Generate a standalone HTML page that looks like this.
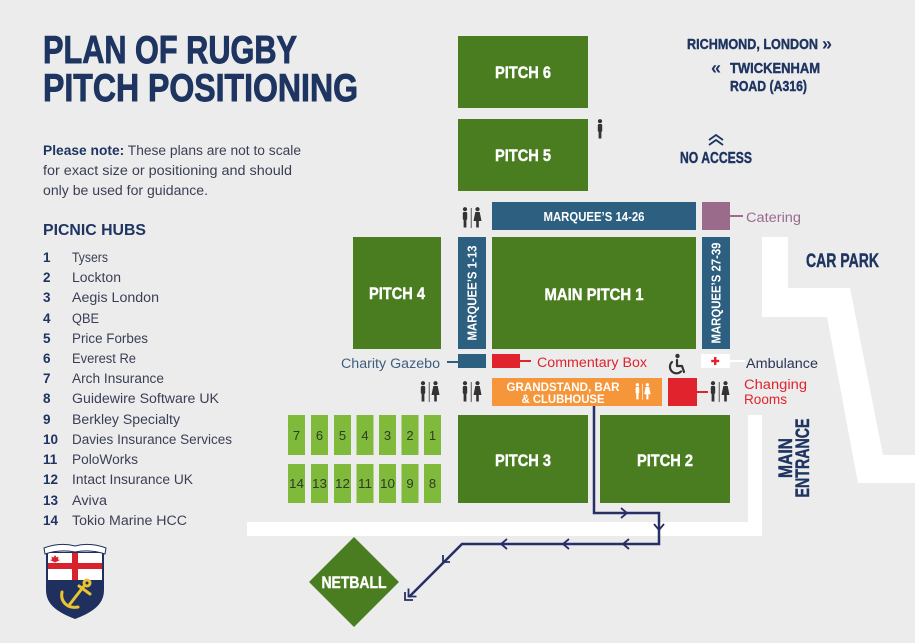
<!DOCTYPE html>
<html><head><meta charset="utf-8"><style>
html,body{margin:0;padding:0;background:#ececec;}
svg{display:block;}
.c{font-family:"Liberation Sans Narrow","Liberation Sans",sans-serif;font-weight:bold;}
.b{font-family:"Liberation Sans","DejaVu Sans",sans-serif;}
</style></head><body>
<svg width="915" height="643" viewBox="0 0 915 643" xmlns="http://www.w3.org/2000/svg">
<defs>
<symbol id="wc" viewBox="0 0 20 22" width="20" height="22">
<circle cx="3" cy="2.2" r="2.1"/><rect x="0.8" y="5" width="4.4" height="8" rx="1.2"/><rect x="1.6" y="11" width="2.8" height="9.5"/>
<rect x="8.8" y="1" width="0.8" height="20"/>
<circle cx="15.5" cy="2.2" r="2.1"/><polygon points="13.3,5 17.7,5 19.5,14 11.5,14"/><rect x="14.2" y="13" width="2.6" height="7.5"/>
</symbol>
</defs>
<rect width="915" height="643" fill="#ececec"/>

<!-- Title -->
<g stroke="#1e3461" stroke-width="0.9">
<text class="c" x="43" y="63" font-size="38.5" fill="#1e3461" textLength="254" lengthAdjust="spacingAndGlyphs">PLAN OF RUGBY</text>
<text class="c" x="43" y="101" font-size="38.5" fill="#1e3461" textLength="315" lengthAdjust="spacingAndGlyphs">PITCH POSITIONING</text>
</g>

<g class="b" font-size="13.5" fill="#3b3f55">
<text x="43" y="155" textLength="258" lengthAdjust="spacingAndGlyphs"><tspan font-weight="bold" fill="#1e3461">Please note:</tspan> These plans are not to scale</text>
<text x="43" y="175" textLength="249" lengthAdjust="spacingAndGlyphs">for exact size or positioning and should</text>
<text x="43" y="195" textLength="165" lengthAdjust="spacingAndGlyphs">only be used for guidance.</text>
</g>

<text class="b" x="43" y="235" font-size="16" font-weight="bold" fill="#1e3461" textLength="103" lengthAdjust="spacingAndGlyphs">PICNIC HUBS</text>
<g class="b" font-size="13.5" fill="#3b3f55">
<g font-weight="bold" fill="#1e3461">
<text x="43" y="262">1</text><text x="43" y="282">2</text><text x="43" y="302">3</text><text x="43" y="323">4</text><text x="43" y="343">5</text><text x="43" y="363">6</text><text x="43" y="383">7</text><text x="43" y="403">8</text><text x="43" y="424">9</text><text x="43" y="444">10</text><text x="43" y="464">11</text><text x="43" y="484">12</text><text x="43" y="505">13</text><text x="43" y="525">14</text>
</g>
<text x="72" y="262" textLength="36" lengthAdjust="spacingAndGlyphs">Tysers</text>
<text x="72" y="282" textLength="49" lengthAdjust="spacingAndGlyphs">Lockton</text>
<text x="72" y="302" textLength="87" lengthAdjust="spacingAndGlyphs">Aegis London</text>
<text x="72" y="323" textLength="27" lengthAdjust="spacingAndGlyphs">QBE</text>
<text x="72" y="343" textLength="76" lengthAdjust="spacingAndGlyphs">Price Forbes</text>
<text x="72" y="363" textLength="64" lengthAdjust="spacingAndGlyphs">Everest Re</text>
<text x="72" y="383" textLength="92" lengthAdjust="spacingAndGlyphs">Arch Insurance</text>
<text x="72" y="403" textLength="147" lengthAdjust="spacingAndGlyphs">Guidewire Software UK</text>
<text x="72" y="424" textLength="108" lengthAdjust="spacingAndGlyphs">Berkley Specialty</text>
<text x="72" y="444" textLength="160" lengthAdjust="spacingAndGlyphs">Davies Insurance Services</text>
<text x="72" y="464" textLength="66" lengthAdjust="spacingAndGlyphs">PoloWorks</text>
<text x="72" y="484" textLength="121" lengthAdjust="spacingAndGlyphs">Intact Insurance UK</text>
<text x="72" y="505" textLength="35" lengthAdjust="spacingAndGlyphs">Aviva</text>
<text x="72" y="525" textLength="115" lengthAdjust="spacingAndGlyphs">Tokio Marine HCC</text>
</g>

<!-- Crest -->
<g>
<path d="M46,552 L104,552 L104,590 C104,606 90,613 75,619 C60,613 46,606 46,590 Z" fill="#1f2f5e"/>
<rect x="48" y="553" width="54" height="27" fill="#ffffff"/>
<rect x="72" y="553" width="6" height="27" fill="#d8232a"/>
<rect x="48" y="563" width="54" height="6" fill="#d8232a"/>
<polygon points="55,555 56.5,557.5 58.5,556.5 58,559.5 60,560 55,562.5 50,560 52,559.5 51.5,556.5 53.5,557.5" fill="#d8232a"/>
<path d="M44,548 Q60,542 75,546 Q90,542 106,548 L105,554 Q90,549 75,552 Q60,549 45,554 Z" fill="#ffffff" stroke="#1f2f5e" stroke-width="1"/>
<g fill="none" stroke="#e9c431" stroke-width="3" stroke-linecap="round">
<path d="M84,586 L70,604"/>
<path d="M62,592 C60,602 68,609 78,607"/>
<path d="M79,586 L90,594"/>
<circle cx="87" cy="583" r="3"/>
</g>
</g>

<!-- White roads -->
<rect x="247" y="522" width="515" height="14" fill="#ffffff"/>
<rect x="748" y="415" width="14" height="121" fill="#ffffff"/>
<polygon points="762,237 788,237 788,288 850,288 883,455 915,455 915,483 858,483 827,317 762,317" fill="#ffffff"/>

<!-- Pitches -->
<g fill="#4a7d1f">
<rect x="458" y="36" width="130" height="72"/>
<rect x="458" y="119" width="130" height="72"/>
<rect x="492" y="237" width="204" height="112"/>
<rect x="353" y="237" width="88" height="112"/>
<rect x="458" y="415" width="130" height="88"/>
<rect x="600" y="415" width="130" height="88"/>
<polygon points="354,537 399,582 354,627 309,582"/>
</g>
<g class="c" fill="#ffffff" font-size="17" text-anchor="middle" stroke="#ffffff" stroke-width="0.4">
<text x="523" y="78" textLength="56" lengthAdjust="spacingAndGlyphs">PITCH 6</text>
<text x="523" y="161" textLength="56" lengthAdjust="spacingAndGlyphs">PITCH 5</text>
<text x="594" y="300" textLength="99" lengthAdjust="spacingAndGlyphs">MAIN PITCH 1</text>
<text x="397" y="299" textLength="56" lengthAdjust="spacingAndGlyphs">PITCH 4</text>
<text x="523" y="466" textLength="56" lengthAdjust="spacingAndGlyphs">PITCH 3</text>
<text x="665" y="466" textLength="56" lengthAdjust="spacingAndGlyphs">PITCH 2</text>
<text x="354" y="588" textLength="65" lengthAdjust="spacingAndGlyphs">NETBALL</text>
</g>

<!-- Marquees -->
<g fill="#2d5f80">
<rect x="492" y="202" width="204" height="28"/>
<rect x="458" y="237" width="28" height="112"/>
<rect x="702" y="237" width="28" height="112"/>
<rect x="458" y="354" width="28" height="14"/>
</g>
<g class="c" fill="#ffffff" font-size="12.5" text-anchor="middle">
<text x="594" y="221" textLength="101" lengthAdjust="spacingAndGlyphs">MARQUEE’S 14-26</text>
<text transform="translate(472,293) rotate(-90)" x="0" y="4.5" textLength="95" lengthAdjust="spacingAndGlyphs">MARQUEE’S 1-13</text>
<text transform="translate(716,293) rotate(-90)" x="0" y="4.5" textLength="101" lengthAdjust="spacingAndGlyphs">MARQUEE’S 27-39</text>
</g>

<!-- Catering -->
<rect x="702" y="202" width="28" height="28" fill="#9a6b8b"/>
<rect x="730" y="215" width="13" height="2" fill="#9a6b8b"/>
<text class="b" x="746" y="222" font-size="13.5" fill="#9a6b8b" textLength="55" lengthAdjust="spacingAndGlyphs">Catering</text>

<!-- Charity Gazebo -->
<rect x="447" y="361" width="11" height="2" fill="#2d5f80"/>
<text class="b" x="341" y="368" font-size="13.5" fill="#3d5f7f" textLength="99" lengthAdjust="spacingAndGlyphs">Charity Gazebo</text>

<!-- Commentary box -->
<rect x="492" y="354" width="28" height="14" fill="#e0232d"/>
<rect x="520" y="360" width="11" height="2" fill="#e0232d"/>
<text class="b" x="537" y="367" font-size="13.5" fill="#e0232d" textLength="110" lengthAdjust="spacingAndGlyphs">Commentary Box</text>

<!-- Wheelchair -->
<g fill="none" stroke="#333" stroke-width="2.2" stroke-linecap="round" stroke-linejoin="round">
<path d="M677,360 L677,366 L682,366 L684,372"/>
<path d="M672,362 A5.5,5.5 0 1 0 681,371.5"/>
</g>
<circle cx="677.5" cy="356" r="2.2" fill="#333"/>

<!-- Ambulance -->
<rect x="701" y="354" width="29" height="14" fill="#ffffff"/>
<rect x="730" y="360" width="15" height="2" fill="#ffffff"/>
<rect x="714" y="357" width="2.4" height="8" fill="#e0232d"/>
<rect x="711.2" y="359.8" width="8" height="2.4" fill="#e0232d"/>
<text class="b" x="746" y="368" font-size="13.5" fill="#2a3556" textLength="72" lengthAdjust="spacingAndGlyphs">Ambulance</text>

<!-- Grandstand -->
<rect x="492" y="378" width="170" height="28" fill="#f6963b"/>
<g class="c" fill="#ffffff" font-size="11.5" text-anchor="middle">
<text x="563" y="391" textLength="113" lengthAdjust="spacingAndGlyphs">GRANDSTAND, BAR</text>
<text x="563" y="403" textLength="83" lengthAdjust="spacingAndGlyphs">&amp; CLUBHOUSE</text>
</g>
<use href="#wc" transform="translate(635,383) scale(0.8)" fill="#ffffff"/>

<!-- Changing rooms -->
<rect x="668" y="378" width="29" height="28" fill="#e0232d"/>
<rect x="697" y="391" width="11" height="2" fill="#e0232d"/>
<text class="b" x="744" y="389" font-size="13.5" fill="#e0232d" textLength="63" lengthAdjust="spacingAndGlyphs">Changing</text>
<text class="b" x="744" y="404" font-size="13.5" fill="#e0232d" textLength="43" lengthAdjust="spacingAndGlyphs">Rooms</text>

<!-- Toilets -->
<g fill="#333">
<use href="#wc" x="462" y="207"/>
<use href="#wc" x="420" y="381"/>
<use href="#wc" x="462" y="381"/>
<use href="#wc" x="710" y="381"/>
<g transform="translate(597,119)">
<circle cx="3" cy="2.2" r="2.1"/><rect x="0.8" y="5" width="4.4" height="8" rx="1.2"/><rect x="1.6" y="11" width="2.8" height="8.5"/>
</g>
</g>

<!-- Picnic hubs -->
<g fill="#7fba3b">
<rect x="288" y="415" width="17" height="40"/><rect x="311" y="415" width="17" height="40"/><rect x="334" y="415" width="17" height="40"/><rect x="356.5" y="415" width="17" height="40"/><rect x="379" y="415" width="17" height="40"/><rect x="401.5" y="415" width="17" height="40"/><rect x="424" y="415" width="17" height="40"/>
<rect x="288" y="464" width="17" height="39"/><rect x="311" y="464" width="17" height="39"/><rect x="334" y="464" width="17" height="39"/><rect x="356.5" y="464" width="17" height="39"/><rect x="379" y="464" width="17" height="39"/><rect x="401.5" y="464" width="17" height="39"/><rect x="424" y="464" width="17" height="39"/>
</g>
<g class="b" font-size="13" fill="#2f3a2a" text-anchor="middle">
<text x="296.5" y="440">7</text><text x="319.5" y="440">6</text><text x="342.5" y="440">5</text><text x="365" y="440">4</text><text x="387.5" y="440">3</text><text x="410" y="440">2</text><text x="432.5" y="440">1</text>
<text x="296.5" y="488" textLength="15" lengthAdjust="spacingAndGlyphs">14</text><text x="319.5" y="488" textLength="15" lengthAdjust="spacingAndGlyphs">13</text><text x="342.5" y="488" textLength="15" lengthAdjust="spacingAndGlyphs">12</text><text x="365" y="488" textLength="14" lengthAdjust="spacingAndGlyphs">11</text><text x="387.5" y="488" textLength="15" lengthAdjust="spacingAndGlyphs">10</text><text x="410" y="488">9</text><text x="432.5" y="488">8</text>
</g>

<!-- Walking route -->
<g fill="none" stroke="#262f66" stroke-width="2.5" stroke-linejoin="miter">
<path d="M594,406 L594,513 L659,513 L659,544 L462,544 L409,597"/>
</g>
<g fill="none" stroke="#262f66" stroke-width="1.8">
<path d="M621,508 L627,513 L621,518"/>
<path d="M654,524 L659,530 L664,524"/>
<path d="M629,539 L623,544 L629,549"/>
<path d="M569,539 L563,544 L569,549"/>
<path d="M507,539 L501,544 L507,549"/>
<path d="M443,555 L443,562 L450,562"/>
<path d="M405,592 L405,600 L413,600"/>
<path d="M408.5,588.5 L408.5,596.5 L416.5,596.5"/>
</g>

<!-- Right-side labels -->
<g class="c" fill="#1e3461" stroke="#1e3461" stroke-width="0.4">
<text x="687" y="49" font-size="14.5" textLength="131" lengthAdjust="spacingAndGlyphs">RICHMOND, LONDON</text>
<text x="730" y="73" font-size="15" textLength="90" lengthAdjust="spacingAndGlyphs">TWICKENHAM</text>
<text x="730" y="91" font-size="15" textLength="77" lengthAdjust="spacingAndGlyphs">ROAD (A316)</text>
<text x="680" y="163" font-size="15.5" textLength="72" lengthAdjust="spacingAndGlyphs">NO ACCESS</text>
<text x="806" y="267" font-size="19" textLength="73" lengthAdjust="spacingAndGlyphs">CAR PARK</text>
<text transform="translate(792,458) rotate(-90)" x="0" y="0" font-size="19" text-anchor="middle" textLength="40" lengthAdjust="spacingAndGlyphs">MAIN</text>
<text transform="translate(809,458) rotate(-90)" x="0" y="0" font-size="19" text-anchor="middle" textLength="79" lengthAdjust="spacingAndGlyphs">ENTRANCE</text>
</g>
<g class="c" fill="#1e3461">
<text x="822" y="50" font-size="18">»</text>
<text x="711" y="74" font-size="18">«</text>
</g>
<g fill="none" stroke="#1e3461" stroke-width="1.8">
<path d="M709,140 L716,135 L723,140"/>
<path d="M709,145 L716,140 L723,145"/>
</g>
</svg>
</body></html>
